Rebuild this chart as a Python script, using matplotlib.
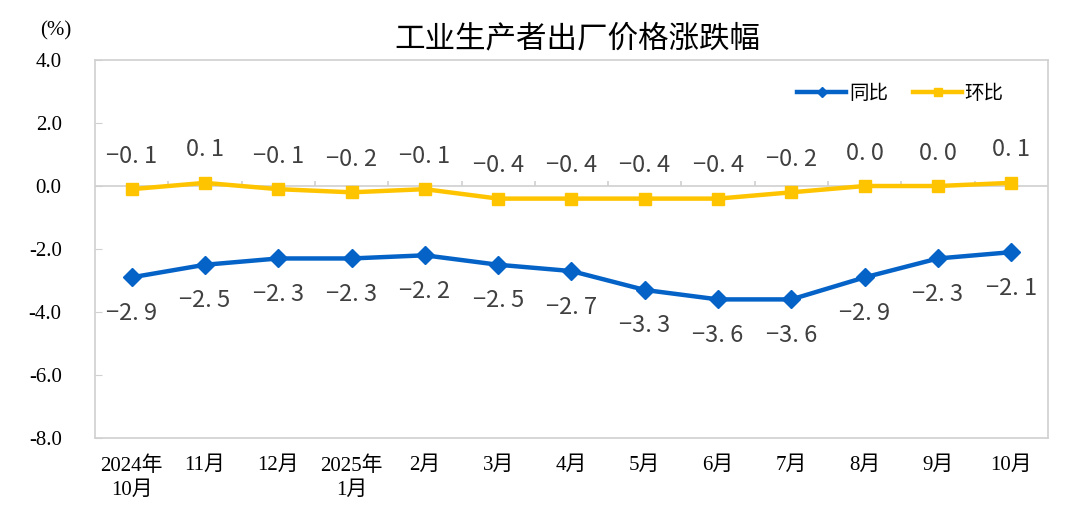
import matplotlib.pyplot as plt
import numpy as np

# data
months = ["2024年\n10月", "11月", "12月", "2025年\n1月", "2月", "3月", "4月",
          "5月", "6月", "7月", "8月", "9月", "10月"]
yoy = [-2.9, -2.5, -2.3, -2.3, -2.2, -2.5, -2.7, -3.3, -3.6, -3.6, -2.9, -2.3, -2.1]
mom = [-0.1, 0.1, -0.1, -0.2, -0.1, -0.4, -0.4, -0.4, -0.4, -0.2, 0.0, 0.0, 0.1]
yticks = [4.0, 2.0, 0.0, -2.0, -4.0, -6.0, -8.0]

blue = "#0563C8"
yellow = "#FFC400"
grey = "#D0D0D0"
cjk = ["Noto Sans CJK SC", "DejaVu Sans"]
serif = ["Liberation Serif", "Noto Sans CJK SC"]


def fmt(v):
    # labels in the picture are drawn with wide spacing after the point
    s = f"{v:.1f}".replace("-", "\u2212")
    return s.replace(".", ". ")


fig = plt.figure(figsize=(10.7, 5.13), dpi=100)
ax = fig.add_axes([0.0888, 0.1462, 0.8906, 0.7368])

x = np.arange(len(months))
ax.plot(x, yoy, color=blue, lw=3.2, marker="D", ms=9, label="同比", zorder=3)
ax.plot(x, mom, color=yellow, lw=3.2, marker="s", ms=9, label="环比", zorder=3)

for xi, v in zip(x, yoy):
    ax.annotate(fmt(v), (xi, v), xytext=(0, -36), textcoords="offset pixels",
                ha="center", va="center", fontsize=17, color="#404040",
                family=cjk, fontweight="light")
for xi, v in zip(x, mom):
    ax.annotate(fmt(v), (xi, v), xytext=(0, 33), textcoords="offset pixels",
                ha="center", va="center", fontsize=17, color="#404040",
                family=cjk, fontweight="light")

ax.set_xlim(-0.5, len(months) - 0.5)
ax.set_ylim(-8, 4)

# zero line with small ticks at category boundaries
ax.axhline(0, color=grey, lw=1.2, zorder=1)
bounds = np.arange(0.5, len(months) - 0.5)
ax.vlines(bounds, 0, 0.17, color=grey, lw=1.2, zorder=1)

ax.set_yticks(yticks)
ax.set_yticklabels([f"{t:.1f}" for t in yticks], family=serif, fontsize=15)
ax.tick_params(axis="y", direction="in", length=5, color=grey, pad=24)
ax.set_xticks(x)
ax.set_xticklabels(months, family=serif, fontsize=15, linespacing=1.35)
ax.tick_params(axis="x", length=0, pad=13)

for sp in ax.spines.values():
    sp.set_color(grey)
    sp.set_linewidth(1.2)

leg = ax.legend(loc="upper right", bbox_to_anchor=(0.972, 0.985), ncol=2,
                frameon=False, prop={"family": cjk, "size": 14},
                handlelength=2.5, handletextpad=0.15, columnspacing=1.3,
                markerscale=0.6)

fig.text(0.54, 0.925, "工业生产者出厂价格涨跌幅", ha="center", va="center",
         fontsize=22, family=cjk, fontweight="medium")
fig.text(0.052, 0.94, "(%)", ha="center", va="center", fontsize=15, family=serif)

fig.savefig("out.png", dpi=100)
